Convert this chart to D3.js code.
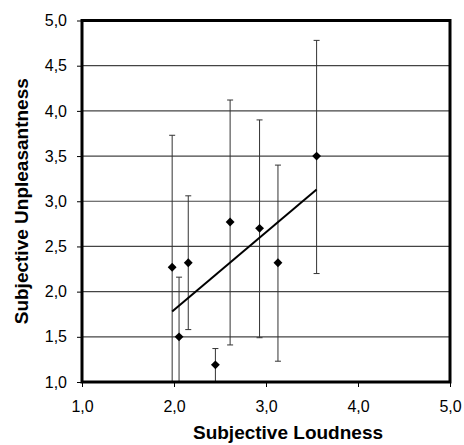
<!DOCTYPE html>
<meta charset="utf-8">
<head>
	<style>
		body { margin: 0; background: #fff; }
		text { font-family: "Liberation Sans", Arial, sans-serif; fill: #000; }
		.tick text { font-size: 16px; }
		.label { font-size: 19px; font-weight: bold; }
	</style>
	<script src="https://cdn.jsdelivr.net/npm/d3@7"></script>
</head>
<body></body>
<script>

	// data
	var loudness   = [1.98, 2.055, 2.155, 2.45, 2.61, 2.93, 3.13, 3.55],
			unpleasant = [2.27, 1.50, 2.32, 1.19, 2.77, 2.70, 2.32, 3.50],
			errHigh    = [3.73, 2.16, 3.06, 1.37, 4.12, 3.90, 3.40, 4.78],
			errLow     = [0.80, 0.80, 1.58, 0.80, 1.41, 1.49, 1.23, 2.20],
			trendX     = [1.98, 3.55],
			trendY     = [1.78, 3.13],
			xTicks     = [1, 2, 3, 4, 5],
			yTicks     = [1, 1.5, 2, 2.5, 3, 3.5, 4, 4.5, 5];

	var width = 464,
			height = 445,
			margin = {top: 20.5, right: 14, bottom: 63, left: 82};

	var svg = d3.select("body").append("svg")
		.attr("width", width)
		.attr("height", height);

	var x = d3.scaleLinear().domain([1, 5]).range([margin.left, width - margin.right]),
			y = d3.scaleLinear().domain([1, 5]).range([height - margin.bottom, margin.top]);

	var fmt = function(d) { return d3.format(".1f")(d).replace(".", ","); };

	// clip so the long error bars stop at the axis
	svg.append("clipPath").attr("id", "plot")
		.append("rect")
			.attr("x", x(1)).attr("y", y(5))
			.attr("width", x(5) - x(1)).attr("height", y(1) - y(5));

	// grid
	svg.append("g").selectAll("line")
		.data(yTicks.slice(1, -1))
	  .enter().append("line")
		.attr("x1", x(1)).attr("x2", x(5))
		.attr("y1", function(d) { return y(d); })
		.attr("y2", function(d) { return y(d); })
		.attr("stroke", "#444")
		.attr("stroke-width", 1.2);

	// axes
	svg.append("g")
		.attr("transform", "translate(0," + y(1) + ")")
		.call(d3.axisBottom(x).tickValues(xTicks).tickFormat(fmt).tickSize(5).tickPadding(14))
		.call(function(g) { g.select(".domain").remove(); });

	svg.append("g")
		.attr("transform", "translate(" + x(1) + ",0)")
		.call(d3.axisLeft(y).tickValues(yTicks).tickFormat(fmt).tickSize(5).tickPadding(10))
		.call(function(g) { g.select(".domain").remove(); });

	var pts = loudness.map(function(d, i) {
		return {x: d, y: unpleasant[i], hi: errHigh[i], lo: errLow[i]};
	});

	// error bars
	var bars = svg.append("g").attr("clip-path", "url(#plot)")
		.selectAll("g")
		.data(pts)
	  .enter().append("g")
		.attr("stroke", "#333")
		.attr("stroke-width", 1);

	bars.append("line")
		.attr("x1", function(d) { return x(d.x); })
		.attr("x2", function(d) { return x(d.x); })
		.attr("y1", function(d) { return y(d.hi); })
		.attr("y2", function(d) { return y(d.lo); });

	bars.append("line")
		.attr("x1", function(d) { return x(d.x) - 3; })
		.attr("x2", function(d) { return x(d.x) + 3; })
		.attr("y1", function(d) { return y(d.hi); })
		.attr("y2", function(d) { return y(d.hi); });

	bars.append("line")
		.attr("x1", function(d) { return x(d.x) - 3; })
		.attr("x2", function(d) { return x(d.x) + 3; })
		.attr("y1", function(d) { return y(d.lo); })
		.attr("y2", function(d) { return y(d.lo); });

	// trend line
	svg.append("path")
		.datum(trendX.map(function(d, i) { return [d, trendY[i]]; }))
		.attr("d", d3.line().x(function(d) { return x(d[0]); }).y(function(d) { return y(d[1]); }))
		.attr("fill", "none")
		.attr("stroke", "#000")
		.attr("stroke-width", 2);

	// diamonds
	svg.append("g").selectAll("path")
		.data(pts)
	  .enter().append("path")
		.attr("d", d3.symbol().type(d3.symbolDiamond2).size(50))
		.attr("transform", function(d) { return "translate(" + x(d.x) + "," + y(d.y) + ")"; })
		.attr("fill", "#000");

	// frame
	svg.append("rect")
		.attr("x", x(1)).attr("y", y(5))
		.attr("width", x(5) - x(1)).attr("height", y(1) - y(5))
		.attr("fill", "none")
		.attr("stroke", "#000")
		.attr("stroke-width", 3);

	svg.append("text")
		.attr("class", "label")
		.attr("x", 288).attr("y", 439)
		.attr("text-anchor", "middle")
		.text("Subjective Loudness");

	svg.append("text")
		.attr("class", "label")
		.attr("transform", "translate(28," + ((y(1) + y(5)) / 2) + ")rotate(-90)")
		.attr("text-anchor", "middle")
		.text("Subjective Unpleasantness");

</script>
